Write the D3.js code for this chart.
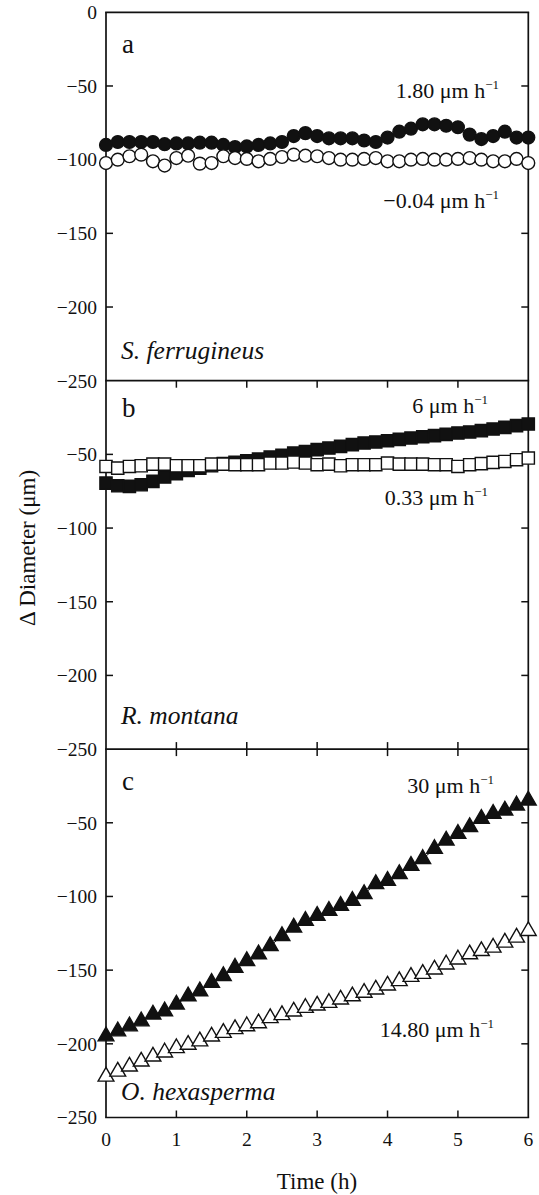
<!DOCTYPE html>
<html>
<head>
<meta charset="utf-8">
<script src="https://cdn.jsdelivr.net/npm/d3@7"></script>
<style>
  html, body { margin: 0; padding: 0; background: #fff; }
  svg { display: block; }
  text { font-family: "Liberation Serif", "Times New Roman", serif; fill: #111; }
</style>
</head>
<body>
<svg id="chart" width="539" height="1195"></svg>
<script>
// ---------------- data ----------------
const time = [0, 0.167, 0.333, 0.5, 0.667, 0.833, 1, 1.167, 1.333, 1.5, 1.667, 1.833, 2, 2.167, 2.333, 2.5, 2.667, 2.833, 3, 3.167, 3.333, 3.5, 3.667, 3.833, 4, 4.167, 4.333, 4.5, 4.667, 4.833, 5, 5.167, 5.333, 5.5, 5.667, 5.833, 6];

const panelA_filled = [-90, -88, -88, -88, -88, -89.5, -89, -89, -88.5, -88.5, -90, -91.5, -91, -90, -89, -88, -84, -82, -84, -85.5, -85.5, -85.5, -87, -88, -85, -81, -79, -76, -76, -77, -78, -83, -86, -84, -81, -85, -85];
const panelA_open = [-102.3, -100, -97.7, -96.6, -101.1, -104, -98.9, -97.3, -102.7, -102.3, -97.7, -98.9, -99.5, -101.1, -99.5, -98.2, -96.6, -97.3, -97.7, -98.9, -100, -100, -99.5, -98.9, -101.1, -101.1, -100, -99.5, -100, -100, -99.5, -98.9, -100, -101.1, -101.1, -99.5, -102.3];

const panelB_filled = [-69.5, -71.3, -71.7, -70.6, -68.3, -65.4, -63.1, -60.9, -59.3, -57.7, -56.3, -55.4, -54.3, -53.2, -51.8, -50.7, -49.1, -48, -46.8, -45.7, -44.6, -43.4, -42.3, -41.6, -40.7, -39.8, -38.9, -38, -37.3, -36.4, -35.5, -34.8, -33.9, -32.8, -31.7, -30.5, -29.4];
const panelB_open = [-58.2, -59.3, -58.2, -57.7, -56.6, -56.6, -57.7, -57.7, -57.7, -56.6, -56.6, -57, -57, -57, -55.9, -55.9, -55.2, -55.9, -57, -56.6, -57.7, -57, -57, -57, -55.9, -56.6, -56.6, -56.6, -57, -57, -58.2, -57, -56.3, -55.4, -54.8, -53.6, -52.5];

const panelC_filled = [-194.9, -191.5, -188.1, -184.7, -180.1, -177.9, -173.3, -167.7, -164.3, -158.5, -154, -148.3, -143.8, -139.2, -133.6, -126.8, -121, -116.5, -113.1, -109.7, -106.3, -102.9, -98.3, -91.5, -89.3, -84.7, -79.1, -74.5, -67.7, -62, -57.5, -52.9, -47.2, -43.8, -41.6, -38.2, -34.8];
const panelC_open = [-222.2, -218.8, -215.4, -212, -208.6, -205.8, -202.9, -200.6, -198.3, -195, -192.5, -190, -188, -186, -182.5, -180.5, -178, -175.6, -174, -172.2, -169.9, -167.7, -165.3, -163.1, -160.4, -157.4, -154.5, -152.5, -149.5, -146.1, -142.7, -139.2, -137, -134.7, -131.3, -127.9, -123.4];

const xTicks = [0, 1, 2, 3, 4, 5, 6];
const yTicks = [0, -50, -100, -150, -200, -250];
const panelLetters = ["a", "b", "c"];
const speciesNames = ["S. ferrugineus", "R. montana", "O. hexasperma"];
const ratesFilled = ["1.80", "6", "30"];
const ratesOpen = ["\u22120.04", "0.33", "14.80"];
const markerShapes = ["circle", "square", "triangle"];
const xTitle = "Time (h)";
const yTitle = "\u0394 Diameter (\u03bcm)";

// ---------------- layout ----------------
const svg = d3.select("#chart");
const plotLeft = 106, plotRight = 528.3, plotTop = 12.3, plotBottom = 1117.5;
const panelH = (plotBottom - plotTop) / 3;
const tickLen = 7;
const minus = s => String(s).replace("-", "\u2212");

const x = d3.scaleLinear().domain([0, 6]).range([plotLeft, plotRight]);

const panels = [
  { filled: panelA_filled, open: panelA_open },
  { filled: panelB_filled, open: panelB_open },
  { filled: panelC_filled, open: panelC_open }
];

// style offsets per panel (label placement)
const letterBase = [41, 36, 41];
const speciesBase = [21.5, 25.5, 17.5];
const rateFilledBase = [98, 413, 793];
const rateOpenBase = [208, 505, 1037];
const rateRight = [499, 488, 494];

panels.forEach((p, k) => {
  const y0 = plotTop + k * panelH;
  const y = d3.scaleLinear().domain([-250, 0]).range([y0 + panelH, y0]);
  const g = svg.append("g");

  // frame
  g.append("line").attr("x1", plotLeft).attr("x2", plotLeft).attr("y1", y0).attr("y2", y0 + panelH)
    .attr("stroke", "#111").attr("stroke-width", 1.7);
  g.append("line").attr("x1", plotRight).attr("x2", plotRight).attr("y1", y0).attr("y2", y0 + panelH)
    .attr("stroke", "#111").attr("stroke-width", 1.7);
  g.append("line").attr("x1", plotLeft - 0.85).attr("x2", plotRight + 0.85).attr("y1", y0 + panelH).attr("y2", y0 + panelH)
    .attr("stroke", "#111").attr("stroke-width", 1.7);
  if (k === 0) {
    g.append("line").attr("x1", plotLeft - 0.85).attr("x2", plotRight + 0.85).attr("y1", y0).attr("y2", y0)
      .attr("stroke", "#111").attr("stroke-width", 1.7);
  }

  // y ticks, left and right, inward
  const yt = yTicks.filter(v => v !== 0 && v !== -250);
  g.selectAll(".ytl").data(yt).join("line")
    .attr("x1", plotLeft).attr("x2", plotLeft + tickLen)
    .attr("y1", d => y(d)).attr("y2", d => y(d))
    .attr("stroke", "#111").attr("stroke-width", 1.5);
  g.selectAll(".ytr").data(yt).join("line")
    .attr("x1", plotRight).attr("x2", plotRight - tickLen)
    .attr("y1", d => y(d)).attr("y2", d => y(d))
    .attr("stroke", "#111").attr("stroke-width", 1.5);

  // y tick labels
  const labels = k === 0 ? yTicks : yTicks.filter(v => v !== 0);
  g.selectAll(".ylab").data(labels).join("text")
    .attr("x", 97).attr("y", d => y(d))
    .attr("dy", "0.35em")
    .attr("text-anchor", "end")
    .attr("font-size", 19.5)
    .text(d => minus(d));

  // x ticks inward (top and bottom for panels b, c)
  const xt = xTicks.slice(1, -1);
  if (k > 0) {
    g.selectAll(".xtt").data(xt).join("line")
      .attr("x1", d => x(d)).attr("x2", d => x(d))
      .attr("y1", y0).attr("y2", y0 + tickLen)
      .attr("stroke", "#111").attr("stroke-width", 1.5);
    g.selectAll(".xtb").data(xt).join("line")
      .attr("x1", d => x(d)).attr("x2", d => x(d))
      .attr("y1", y0 + panelH).attr("y2", y0 + panelH - tickLen)
      .attr("stroke", "#111").attr("stroke-width", 1.5);
  }

  // connecting lines
  const line = d3.line().x((d, i) => x(time[i])).y(d => y(d));
  [p.filled, p.open].forEach(s => {
    g.append("path").attr("d", line(s)).attr("fill", "none")
      .attr("stroke", "#111").attr("stroke-width", 1);
  });

  // markers
  const shape = markerShapes[k];
  const drawMarkers = (series, filled) => {
    const fill = filled ? "#111" : "#fff";
    const sel = g.append("g").selectAll("path").data(series).join("path");
    if (shape === "circle") {
      sel.attr("d", d3.symbol(d3.symbolCircle, Math.PI * 6.4 * 6.4)());
    } else if (shape === "square") {
      sel.attr("d", d3.symbol(d3.symbolSquare, 12.2 * 12.2)());
    } else {
      sel.attr("d", d3.symbol(d3.symbolTriangle, 108)());
    }
    sel.attr("transform", (d, i) => `translate(${x(time[i])},${y(d)})`)
      .attr("fill", fill).attr("stroke", "#111").attr("stroke-width", 1.4);
  };
  drawMarkers(p.filled, true);
  drawMarkers(p.open, false);

  // panel letter
  g.append("text").attr("x", 122).attr("y", y0 + letterBase[k])
    .attr("font-size", 27).text(panelLetters[k]);

  // species name
  g.append("text").attr("x", 121).attr("y", y0 + panelH - speciesBase[k])
    .attr("font-size", 25.5).attr("font-style", "italic").text(speciesNames[k]);

  // rate annotations
  const rate = (txt, yy) => {
    const t = g.append("text").attr("x", rateRight[k]).attr("y", yy)
      .attr("text-anchor", "end").attr("font-size", 22);
    t.append("tspan").text(txt + " \u03bcm h");
    t.append("tspan").attr("font-size", 13).attr("dy", -9).text("\u22121");
  };
  rate(ratesFilled[k], rateFilledBase[k]);
  rate(ratesOpen[k], rateOpenBase[k]);
});

// x tick labels
svg.selectAll(".xlab").data(xTicks).join("text")
  .attr("x", d => x(d)).attr("y", 1146)
  .attr("text-anchor", "middle").attr("font-size", 19.5)
  .text(d => d);

// axis titles
svg.append("text").attr("x", 317).attr("y", 1189)
  .attr("text-anchor", "middle").attr("font-size", 23).text(xTitle);
svg.append("text").attr("transform", "translate(35,548) rotate(-90)")
  .attr("text-anchor", "middle").attr("font-size", 23).text(yTitle);
</script>
</body>
</html>
